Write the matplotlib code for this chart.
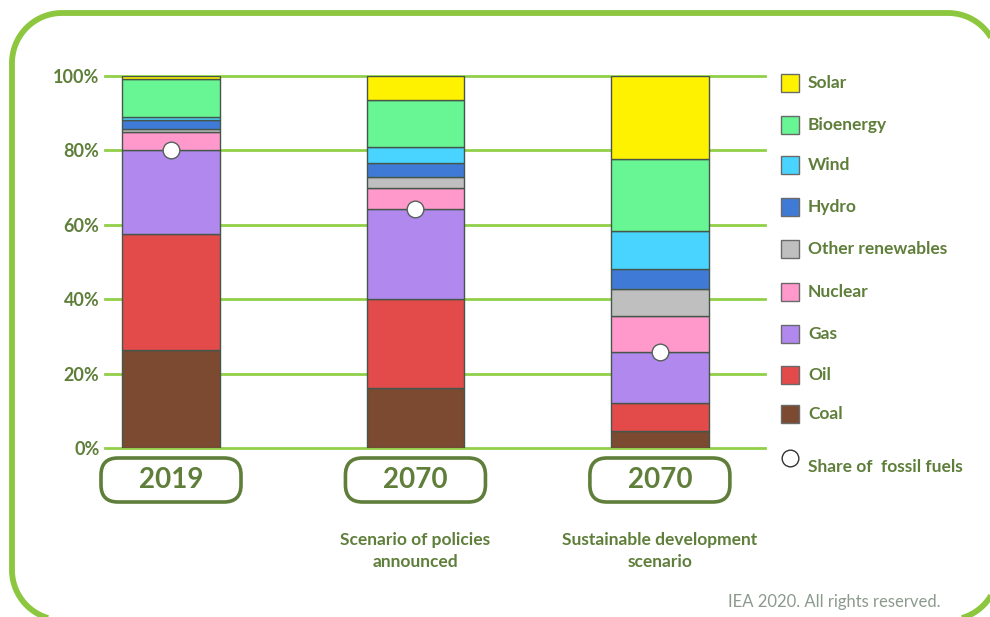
import numpy as np
import matplotlib.pyplot as plt
from matplotlib.patches import FancyBboxPatch, Rectangle, Polygon
from matplotlib.lines import Line2D

plt.rcParams['font.family'] = ['Lato', 'DejaVu Sans']

# Shares of total energy supply (%), bottom to top
sources = ['Coal', 'Oil', 'Gas', 'Nuclear', 'Other renewables',
           'Hydro', 'Wind', 'Bioenergy', 'Solar']
colors = ['#7B4A30', '#E34A4A', '#B088EE', '#FF99CC', '#BFBFBF',
          '#3F7BD6', '#48D4FF', '#68F594', '#FFF200']

years = ['2019', '2070', '2070']
scenarios = ['', 'Scenario of policies\nannounced', 'Sustainable development\nscenario']

shares = {
    'Coal':             [26.3, 16.1, 4.7],
    'Oil':              [31.2, 24.0, 7.5],
    'Gas':              [22.6, 24.1, 13.5],
    'Nuclear':          [4.9, 5.6, 9.7],
    'Other renewables': [0.7, 3.1, 7.3],
    'Hydro':            [2.5, 3.6, 5.5],
    'Wind':             [0.9, 4.3, 10.2],
    'Bioenergy':        [10.1, 12.7, 19.4],
    'Solar':            [0.8, 6.5, 22.2],
}
fossil = ['Coal', 'Oil', 'Gas']
yticks = [0, 20, 40, 60, 80, 100]

green = '#5E7E3A'
grid_green = '#92CF48'
edge = '#45564B'


def rounded_rect(x0, y0, x1, y1, r, n=40):
    # outline of a rounded rectangle as a dense polyline
    pts = []
    corners = [(x1 - r, y1 - r, 0), (x0 + r, y1 - r, 90),
               (x0 + r, y0 + r, 180), (x1 - r, y0 + r, 270)]
    for cx, cy, a0 in corners:
        a = np.radians(np.linspace(a0, a0 + 90, n))
        pts.append(np.column_stack([cx + r * np.cos(a), cy + r * np.sin(a)]))
    return np.vstack(pts)


fig = plt.figure(figsize=(9.9, 6.17), dpi=100)
ax = fig.add_axes([105 / 990, 1 - 448 / 617, 660 / 990, 372 / 617])

x = range(len(years))
bottom = [0.0] * len(years)
for src, col in zip(sources, colors):
    vals = shares[src]
    ax.bar(x, vals, width=0.4, bottom=bottom, color=col, edgecolor=edge,
           linewidth=1, zorder=3)
    bottom = [b + v for b, v in zip(bottom, vals)]

fossil_share = [sum(shares[s][i] for s in fossil) for i in x]
ax.plot(list(x), fossil_share, 'o', ms=12, mfc='white', mec='#55605A',
        mew=1, ls='none', zorder=5, clip_on=False)

for t in yticks:
    ax.axhline(t, color=grid_green, lw=2, zorder=0, clip_on=False)

ax.set_xlim(-0.27, 2.43)
ax.set_ylim(0, 100)
ax.set_yticks(yticks)
ax.set_yticklabels([f'{t}%' for t in yticks],
                   fontsize=13, fontweight='bold', color=green)
ax.set_xticks([])
ax.tick_params(axis='y', length=0, pad=4)
for s in ax.spines.values():
    s.set_visible(False)
ax.patch.set_alpha(0)

# rounded year boxes and scenario captions under each bar
for i in x:
    cx = ax.transData.transform((i, 0))[0] / fig.dpi
    box = FancyBboxPatch((cx - 0.70, 1.15), 1.40, 0.44,
                         boxstyle='round,pad=0,rounding_size=0.17',
                         transform=fig.dpi_scale_trans, fill=False,
                         ec=green, lw=2.6)
    fig.add_artist(box)
    fig.text(cx / 9.9, 1.37 / 6.17, years[i], ha='center', va='center',
             fontsize=20, fontweight='bold', color=green)
    if scenarios[i]:
        fig.text(cx / 9.9, 1 - 551 / 617, scenarios[i], ha='center', va='center',
                 fontsize=12.5, fontweight='bold', color=green, linespacing=1.45)

# legend, top to bottom
leg_y = [82.7, 125, 165, 206.7, 249, 291.7, 334, 375, 414]
for src, col, py in zip(sources[::-1], colors[::-1], leg_y):
    fig.add_artist(Rectangle((781 / 990, 1 - (py + 9) / 617), 18 / 990, 18 / 617,
                             transform=fig.transFigure, fc=col, ec='#6A6A6A', lw=1))
    fig.text(808 / 990, 1 - py / 617, src, ha='left', va='center',
             fontsize=12.5, fontweight='bold', color=green)
fig.add_artist(Line2D([790 / 990], [1 - 458 / 617], marker='o', ms=12,
                      mfc='white', mec='#333333', mew=1, ls='none',
                      transform=fig.transFigure))
fig.text(808 / 990, 1 - 467 / 617, 'Share of  fossil fuels', ha='left',
         va='center', fontsize=12.5, fontweight='bold', color=green)

fig.text(940 / 990, 1 - 602 / 617, 'IEA 2020. All rights reserved.', ha='right',
         va='center', fontsize=12, color='#8C9A8E')

# outer frame, running past the right and bottom edges (inches)
fig.add_artist(Polygon(rounded_rect(0.12, -0.03, 9.98, 6.04, 0.5), closed=True,
                       fill=False, ec='#8DC63F', lw=4.2,
                       transform=fig.dpi_scale_trans))

fig.savefig('out.png', dpi=100)
